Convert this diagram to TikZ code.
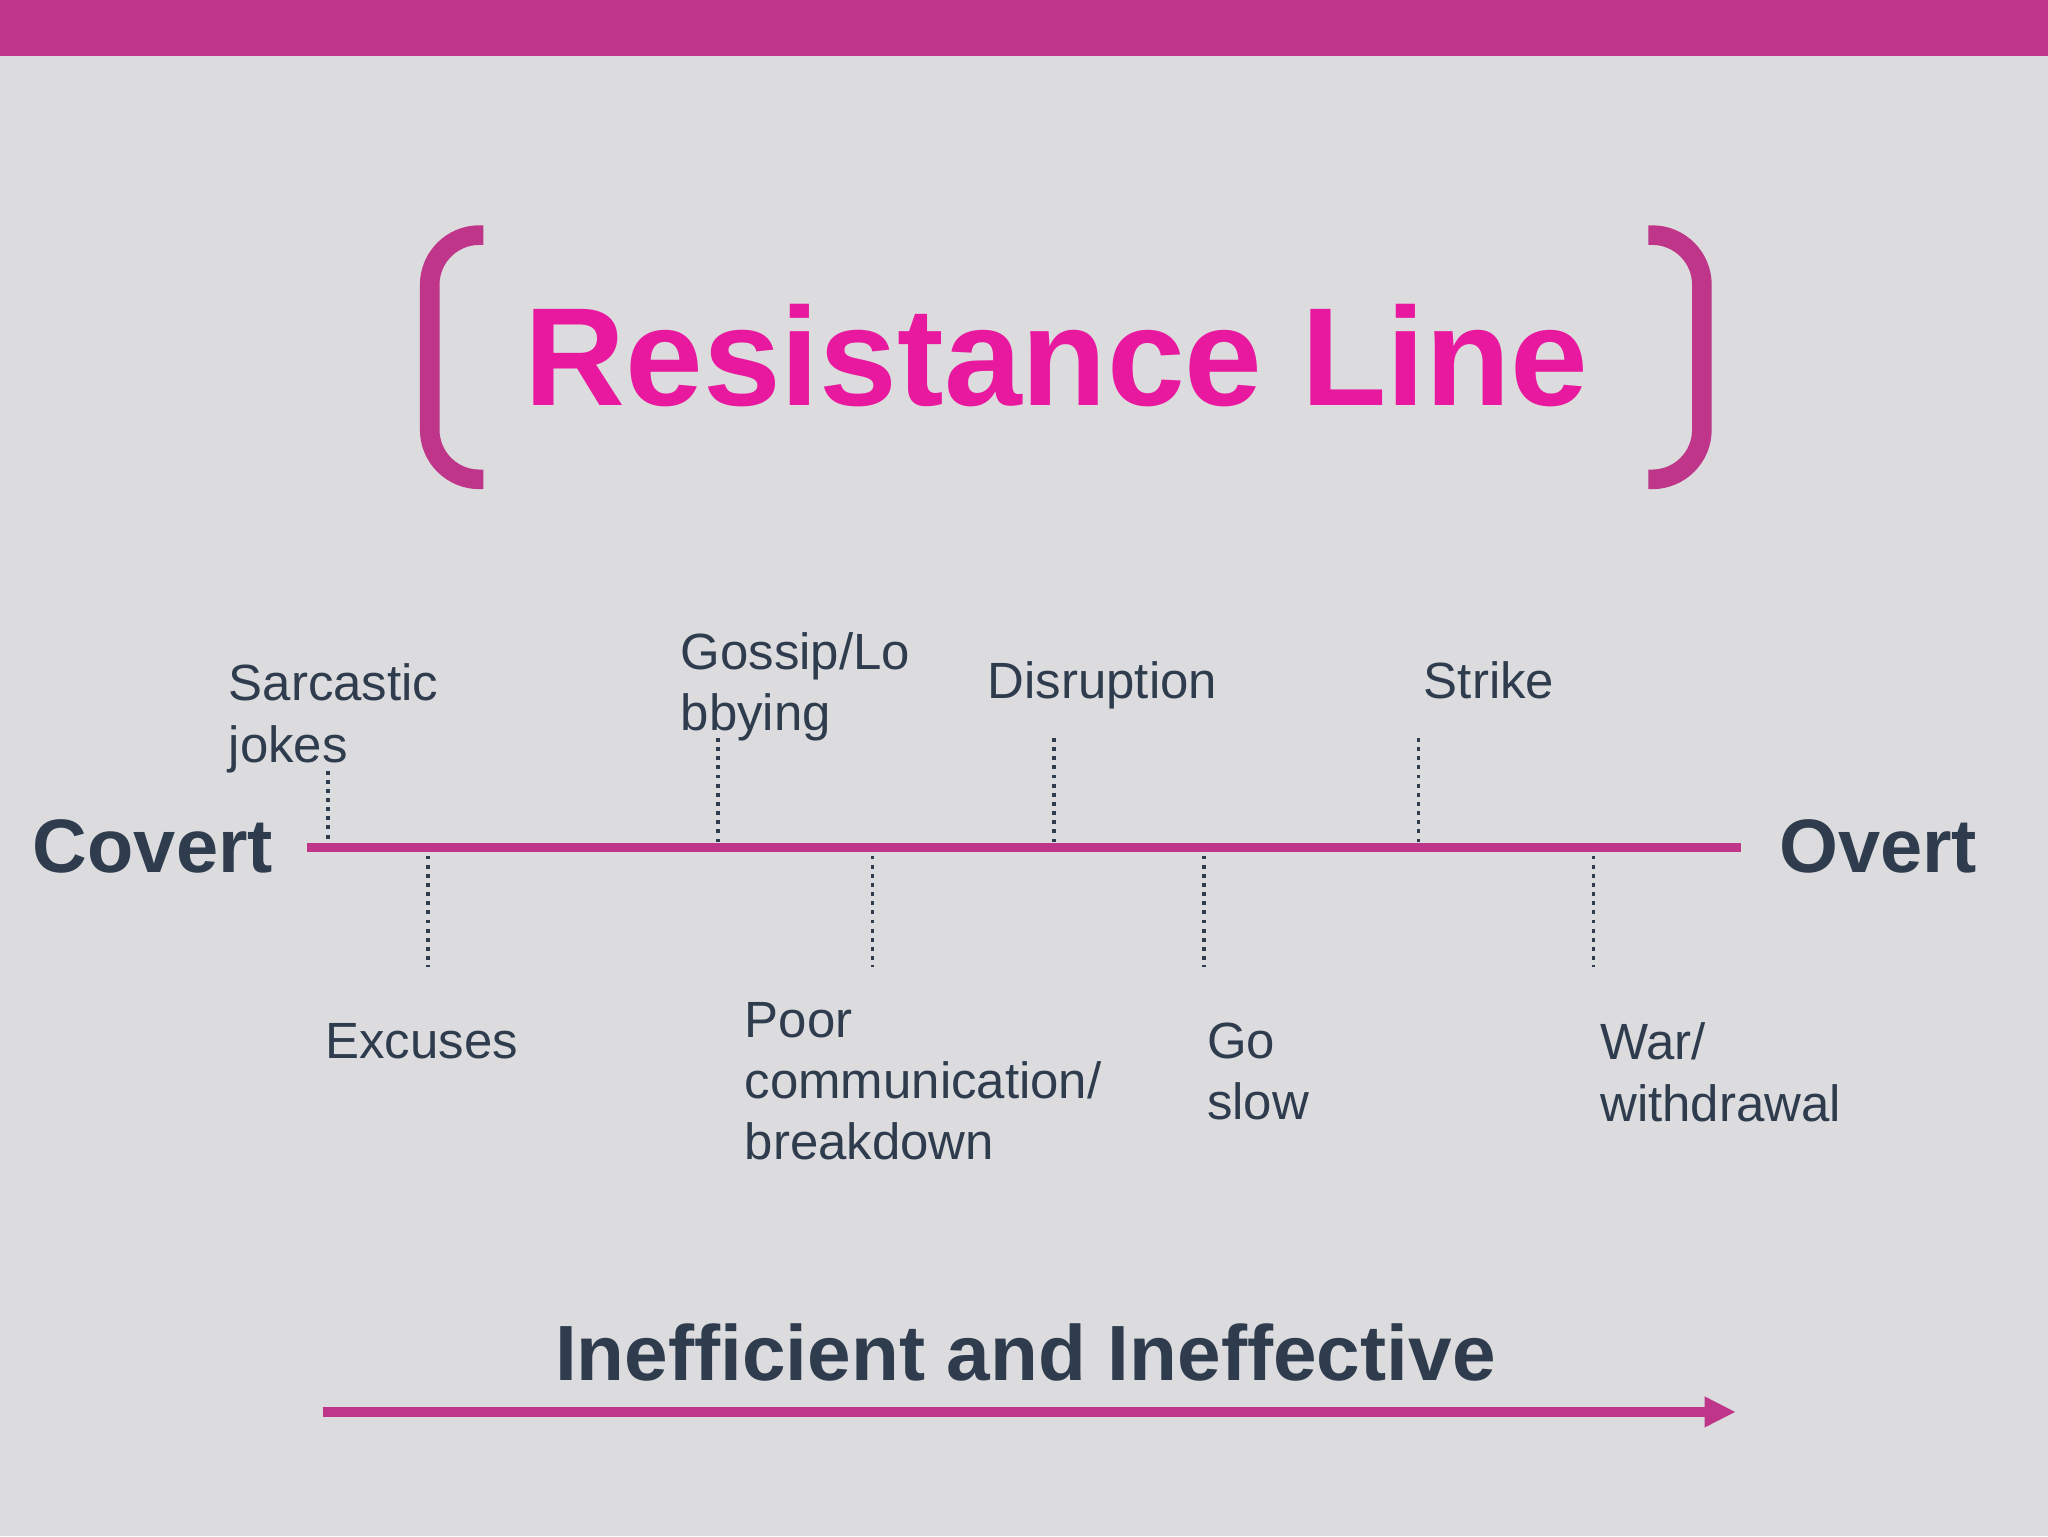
\documentclass[tikz,border=0pt]{standalone}
\usepackage{fontspec}
\setmainfont{Liberation Sans}
\usetikzlibrary{arrows.meta}
\definecolor{bg}{HTML}{DCDBDD}
\definecolor{bar}{HTML}{BE3589}
\definecolor{ttl}{HTML}{E8199E}
\definecolor{txt}{HTML}{2E3C4E}
\tikzset{
  lbl/.style={anchor=north west,inner sep=0pt,align=left,text=txt,font=\fontsize{39}{47}\selectfont},
  big/.style={anchor=north west,inner sep=0pt,text=txt,font=\fontsize{58}{60}\selectfont\bfseries},
  tick/.style={draw=txt,line width=3pt,dash pattern=on 3pt off 4pt},
  brk/.style={draw=bar,line width=15pt,rounded corners=38pt}
}
\begin{document}
\begin{tikzpicture}[x=1pt,y=-1pt]
\fill[bg] (0,0) rectangle (1568,1176);
\useasboundingbox (0,0) rectangle (1568,1176);
\fill[bar] (0,0) rectangle (1568,43);
\draw[brk] (370,180) -- (329,180) -- (329,367) -- (370,367);
\draw[brk] (1262,180) -- (1303,180) -- (1303,367) -- (1262,367);
\node[anchor=north,inner sep=0pt,text=ttl,font=\fontsize{107}{110}\selectfont\bfseries] (title) at (809,233) {Resistance Line};
\coordinate (L) at (235,649); \coordinate (R) at (1333,649);
\draw[bar,line width=7pt] (L) -- (R);
\node[big] (cov) at (25,627) {Covert};
\node[big] (ovt) at (1362,627) {Overt};
\foreach \n/\x/\a/\b in {t1/251/590/645,t2/550/565/645,t3/807/565/645,t4/1086/565/645,b1/328/655/740,b2/668/655/740,b3/922/655/740,b4/1220/655/740}{
  \coordinate (\n a) at (\x,\a); \coordinate (\n b) at (\x,\b);
  \draw[tick] (\n a) -- (\n b);
}
\node[lbl] (s) at (175,508) {Sarcastic\\jokes};
\node[lbl] (g) at (521,484) {Gossip/Lo\\bbying};
\node[lbl] (d) at (756,506) {Disruption};
\node[lbl] (st) at (1090,506) {Strike};
\node[lbl] (e) at (249,783) {Excuses};
\node[lbl] (p) at (570,767) {Poor\\communication/\\breakdown};
\node[lbl] (go) at (924,783) {Go\\slow};
\node[lbl] (w) at (1225,783) {War/\\withdrawal};
\node[anchor=north,inner sep=0pt,text=txt,font=\fontsize{60}{62}\selectfont\bfseries] (ie) at (785,1013) {Inefficient and Ineffective};
\coordinate (A1) at (247,1081); \coordinate (A2) at (1329,1081);
\draw[bar,line width=7pt,-{Triangle[length=24pt,width=22pt]}] (A1) -- (A2);
\end{tikzpicture}
\end{document}
